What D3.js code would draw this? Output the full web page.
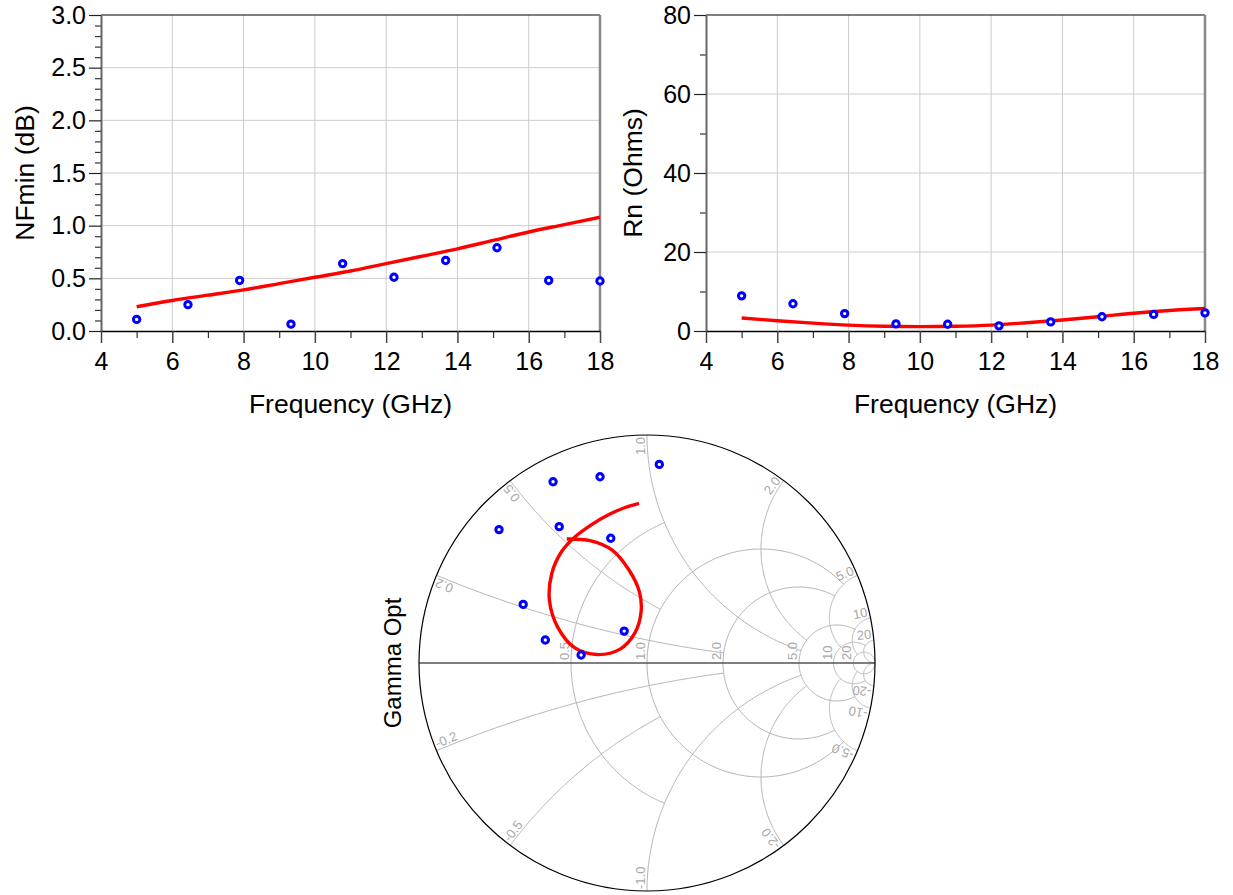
<!DOCTYPE html>
<html>
<head>
<meta charset="utf-8">
<script src="https://cdn.jsdelivr.net/npm/d3@7"></script>
<style>
  body { margin: 0; background: #fff; }
  text { font-family: "Liberation Sans", Arial, sans-serif; }
</style>
</head>
<body>
<svg id="chart" width="1233" height="895"></svg>
<script>
// measured noise parameters
var freq = [5.0, 6.44, 7.89, 9.33, 10.78, 12.22, 13.67, 15.11, 16.56, 18.0];
var nfMeas = [0.11, 0.25, 0.48, 0.065, 0.64, 0.51, 0.67, 0.79, 0.48, 0.475];
var rnMeas = [8.9, 6.9, 4.4, 1.8, 1.7, 1.3, 2.3, 3.6, 4.2, 4.6];

// model (red curves)
var modelFreq = [5, 6, 7, 8, 9, 10, 11, 12, 13, 14, 15, 16, 17, 18];
var nfModel = [0.23, 0.29, 0.34, 0.39, 0.45, 0.51, 0.57, 0.64, 0.71, 0.78, 0.86, 0.94, 1.01, 1.08];
var rnModel = [3.3, 2.6, 2.0, 1.5, 1.2, 1.1, 1.2, 1.5, 2.1, 2.8, 3.6, 4.5, 5.2, 5.7];

// Gamma Opt, measured points (real / imag)
var gammaRe = [0.054, -0.206, -0.412, -0.649, -0.385, -0.159, -0.543, -0.100, -0.446, -0.289];
var gammaIm = [0.871, 0.817, 0.795, 0.585, 0.598, 0.547, 0.257, 0.140, 0.101, 0.035];

// Gamma Opt, model curve (real / imag)
var modelRe = [-0.352, -0.250, -0.154, -0.079, -0.033, -0.026, -0.053, -0.118, -0.219,
               -0.316, -0.390, -0.428, -0.417, -0.373, -0.316, -0.246, -0.167, -0.096, -0.035];
var modelIm = [0.544, 0.537, 0.496, 0.408, 0.311, 0.224, 0.132, 0.061, 0.037,
               0.066, 0.154, 0.276, 0.395, 0.491, 0.553, 0.605, 0.651, 0.682, 0.700];

// ticks
var xTicks = [4, 6, 8, 10, 12, 14, 16, 18];
var xMinor = [5, 7, 9, 11, 13, 15, 17];
var nfTicks = [0, 0.5, 1.0, 1.5, 2.0, 2.5, 3.0];
var nfMinor = [0.1, 0.2, 0.3, 0.4, 0.6, 0.7, 0.8, 0.9, 1.1, 1.2, 1.3, 1.4, 1.6, 1.7, 1.8, 1.9,
               2.1, 2.2, 2.3, 2.4, 2.6, 2.7, 2.8, 2.9];
var rnTicks = [0, 20, 40, 60, 80];
var rnMinor = [10, 30, 50, 70];

// smith grid: resistance circles and reactance arcs, with the extent each one is drawn to
var rCircles = [0.5, 1, 2, 5, 10, 20];
var rExtent = [1, 5, 5, 10, 20, Infinity];
var xArcs = [0.2, 0.5, 1, 2, 5, 10, 20];
var xExtent = [2, 1, 5, 5, 10, 20, Infinity];

var svg = d3.select("#chart");
var FONT = '"Liberation Sans", Arial, sans-serif';

function drawPanel(left, right, yDomain, yMajor, yMinorVals, fmt, meas, model, yLabel, labelX) {
  var top = 15, bottom = 331;
  var x = d3.scaleLinear().domain([4, 18]).range([left, right]);
  var y = d3.scaleLinear().domain(yDomain).range([bottom, top]);
  var g = svg.append("g");

  // grid
  g.selectAll(".vg").data(xTicks.slice(1, -1)).enter().append("line")
    .attr("x1", function(d) { return x(d); }).attr("x2", function(d) { return x(d); })
    .attr("y1", bottom).attr("y2", top)
    .attr("stroke", "#cccccc").attr("stroke-width", 1);
  g.selectAll(".hg").data(yMajor.slice(1, -1)).enter().append("line")
    .attr("x1", left).attr("x2", right)
    .attr("y1", function(d) { return y(d); }).attr("y2", function(d) { return y(d); })
    .attr("stroke", "#cccccc").attr("stroke-width", 1);

  // frame top / right
  g.append("line").attr("x1", left).attr("x2", right).attr("y1", top).attr("y2", top)
    .attr("stroke", "#000").attr("stroke-width", 1.2);
  g.append("line").attr("x1", right).attr("x2", right).attr("y1", top).attr("y2", bottom)
    .attr("stroke", "#888").attr("stroke-width", 2.5);

  // minor ticks
  var ym = g.append("g").attr("transform", "translate(" + left + ",0)")
    .call(d3.axisLeft(y).tickValues(yMinorVals).tickSize(6).tickSizeOuter(0).tickFormat(""));
  ym.select(".domain").remove();
  ym.selectAll("line").attr("stroke", "#333").attr("stroke-width", 1.2);
  var xm = g.append("g").attr("transform", "translate(0," + bottom + ")")
    .call(d3.axisBottom(x).tickValues(xMinor).tickSize(7).tickSizeOuter(0).tickFormat(""));
  xm.select(".domain").remove();
  xm.selectAll("line").attr("stroke", "#333").attr("stroke-width", 1.2);

  // major axes
  var ya = g.append("g").attr("transform", "translate(" + left + ",0)")
    .call(d3.axisLeft(y).tickValues(yMajor).tickSize(12).tickSizeOuter(0).tickPadding(3).tickFormat(fmt));
  ya.attr("font-size", 25).attr("font-family", FONT);
  ya.select(".domain").attr("stroke", "#666").attr("stroke-width", 2);
  ya.selectAll("line").attr("stroke", "#222").attr("stroke-width", 1.2);
  ya.selectAll("text").attr("fill", "#000");

  var xa = g.append("g").attr("transform", "translate(0," + bottom + ")")
    .call(d3.axisBottom(x).tickValues(xTicks).tickSize(12).tickSizeOuter(0).tickPadding(9));
  xa.attr("font-size", 25).attr("font-family", FONT);
  xa.select(".domain").attr("stroke", "#000").attr("stroke-width", 1.5);
  xa.selectAll("line").attr("stroke", "#444").attr("stroke-width", 1.5);
  xa.selectAll("text").attr("fill", "#000");

  // titles
  g.append("text").attr("x", (left + right) / 2).attr("y", 413)
    .attr("text-anchor", "middle").attr("font-size", 26.5).text("Frequency (GHz)");
  g.append("text").attr("transform", "translate(" + labelX + "," + ((top + bottom) / 2) + ") rotate(-90)")
    .attr("text-anchor", "middle").attr("font-size", 26.5).text(yLabel);

  // model line
  var line = d3.line()
    .x(function(d, i) { return x(modelFreq[i]); })
    .y(function(d) { return y(d); })
    .curve(d3.curveCatmullRom);
  g.append("path").datum(model).attr("d", line)
    .attr("fill", "none").attr("stroke", "#ff0000").attr("stroke-width", 3.4);

  // measured points
  g.selectAll(".dot").data(meas).enter().append("circle")
    .attr("cx", function(d, i) { return x(freq[i]); })
    .attr("cy", function(d) { return y(d); })
    .attr("r", 3.2)
    .attr("fill", "#fff").attr("stroke", "#0000ff").attr("stroke-width", 3);
}

drawPanel(101, 600, [0, 3], nfTicks, nfMinor, d3.format(".1f"), nfMeas, nfModel, "NFmin (dB)", 34);
drawPanel(706, 1205, [0, 80], rnTicks, rnMinor, d3.format("d"), rnMeas, rnModel, "Rn (Ohms)", 642);

// ---------------- Smith chart ----------------
var cx = 647, cy = 663, R = 228;
var sx = d3.scaleLinear().domain([-1, 1]).range([cx - R, cx + R]);
var sy = d3.scaleLinear().domain([-1, 1]).range([cy + R, cy - R]);

function gam(r, x) {
  var d = (r + 1) * (r + 1) + x * x;
  return [(r * r + x * x - 1) / d, 2 * x / d];
}
function arcPts(ccx, ccy, rad, a0, a1) {
  var pts = [], n = 160;
  for (var k = 0; k <= n; k++) {
    var a = a0 + (a1 - a0) * k / n;
    pts.push([ccx + rad * Math.cos(a), ccy + rad * Math.sin(a)]);
  }
  return pts;
}
var gl = d3.line().x(function(p) { return sx(p[0]); }).y(function(p) { return sy(p[1]); });
var smith = svg.append("g");

// resistance circles
rCircles.forEach(function(r, i) {
  var c = r / (r + 1), rad = 1 / (r + 1);
  var E = isFinite(rExtent[i]) ? gam(r, rExtent[i]) : [1, 0];
  var a = Math.atan2(E[1], E[0] - c);
  smith.append("path").attr("d", gl(arcPts(c, 0, rad, a, 2 * Math.PI - a)))
    .attr("fill", "none").attr("stroke", "#b4b4b4").attr("stroke-width", 1);
});
// reactance arcs
xArcs.forEach(function(xv, i) {
  [xv, -xv].forEach(function(x) {
    var ccy = 1 / x, rad = 1 / Math.abs(x);
    var B = gam(0, x);
    var E = isFinite(xExtent[i]) ? gam(xExtent[i], x) : [1, 0];
    var tB = Math.atan2(B[1] - ccy, B[0] - 1);
    var tE = Math.atan2(E[1] - ccy, E[0] - 1);
    var dt = tE - tB;
    while (dt > Math.PI) dt -= 2 * Math.PI;
    while (dt < -Math.PI) dt += 2 * Math.PI;
    smith.append("path").attr("d", gl(arcPts(1, ccy, rad, tB, tB + dt)))
      .attr("fill", "none").attr("stroke", "#b4b4b4").attr("stroke-width", 1);
  });
});

// real axis and outer circle
smith.append("line").attr("x1", sx(-1)).attr("x2", sx(1)).attr("y1", sy(0)).attr("y2", sy(0))
  .attr("stroke", "#555").attr("stroke-width", 1.5);
smith.append("circle").attr("cx", sx(0)).attr("cy", sy(0)).attr("r", R)
  .attr("fill", "none").attr("stroke", "#000").attr("stroke-width", 1.2);

function lab(v) { return Math.abs(v) < 10 ? v.toFixed(1) : String(v); }

// resistance labels
rCircles.forEach(function(r) {
  var gx = (r - 1) / (r + 1);
  smith.append("text")
    .attr("transform", "translate(" + (sx(gx) - 2) + "," + (sy(0) - 3) + ") rotate(-90)")
    .attr("font-size", 13).attr("fill", "#a8a8a8").attr("text-anchor", "start")
    .text(lab(r));
});
// reactance labels
xArcs.forEach(function(xv) {
  [xv, -xv].forEach(function(x) {
    var P = gam(0, x);
    var px = sx(P[0] * (1 - 2 / R)), py = sy(P[1] * (1 - 2 / R));
    var ang = x > 0 ? Math.atan2(P[1], P[0]) : Math.atan2(-P[1], -P[0]);
    smith.append("text")
      .attr("transform", "translate(" + px + "," + py + ") rotate(" + (-ang * 180 / Math.PI) + ")")
      .attr("y", -2)
      .attr("font-size", 13).attr("fill", "#a8a8a8")
      .attr("text-anchor", x > 0 ? "end" : "start")
      .text(lab(x));
  });
});

// model curve
var mline = d3.line()
  .x(function(d, i) { return sx(modelRe[i]); })
  .y(function(d, i) { return sy(modelIm[i]); })
  .curve(d3.curveCatmullRom);
smith.append("path").datum(modelRe).attr("d", mline)
  .attr("fill", "none").attr("stroke", "#ff0000").attr("stroke-width", 3.4);

// measured points
smith.selectAll(".gp").data(gammaRe).enter().append("circle")
  .attr("cx", function(d) { return sx(d); })
  .attr("cy", function(d, i) { return sy(gammaIm[i]); })
  .attr("r", 3.2)
  .attr("fill", "#fff").attr("stroke", "#0000ff").attr("stroke-width", 3);

smith.append("text")
  .attr("transform", "translate(401," + cy + ") rotate(-90)")
  .attr("text-anchor", "middle").attr("font-size", 24).text("Gamma Opt");
</script>
</body>
</html>
